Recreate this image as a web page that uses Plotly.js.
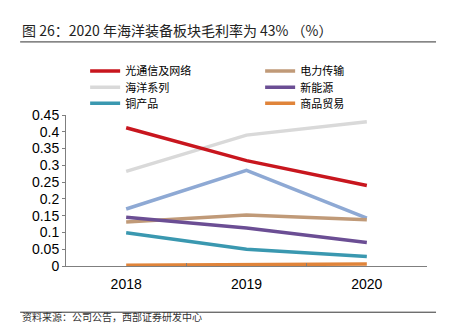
<!DOCTYPE html>
<html><head><meta charset="utf-8">
<script src="https://cdn.plot.ly/plotly-3.0.1.min.js"></script>
<style>html,body{margin:0;padding:0;background:#fff}#chart{width:458px;height:327px}</style>
</head><body><div id="chart"></div>
<script>
const years = ['2018', '2019', '2020'];
const seriesNames = ['光通信及网络', '电力传输', '海洋系列', '新能源', '铜产品', '商品贸易'];
const optical = [0.412, 0.314, 0.240];
const power = [0.131, 0.152, 0.138];
const marine = [0.282, 0.390, 0.430];
const newEnergy = [0.145, 0.113, 0.070];
const copper = [0.099, 0.050, 0.028];
const trade = [0.002, 0.004, 0.006];
const unlabeled = [0.170, 0.285, 0.143];
const yTicks = [0, 0.05, 0.1, 0.15, 0.2, 0.25, 0.3, 0.35, 0.4, 0.45];
const yTickText = ['0', '0.05', '0.1', '0.15', '0.2', '0.25', '0.3', '0.35', '0.4', '0.45'];

const colors = ['#C8161E', '#C09A78', '#D9D9D9', '#6B4E94', '#3A98B0', '#E0843A'];
const values = [optical, power, marine, newEnergy, copper, trade];
const legendRow = ['legend', 'legend', 'legend2', 'legend2', 'legend3', 'legend3'];
const W = 3.5;
const traces = [];
traces.push({x: years, y: unlabeled, type: 'scatter', mode: 'lines', showlegend: false,
  line: {color: '#8EA9D4', width: W}});
const drawOrder = [2, 0, 1, 3, 4, 5];
drawOrder.forEach(i => {
  traces.push({x: years, y: values[i], type: 'scatter', mode: 'lines', name: seriesNames[i],
    legend: legendRow[i], legendrank: i + 1, line: {color: colors[i], width: W}});
});

const legFont = {family: 'Noto Sans CJK SC, sans-serif', size: 11, color: '#000'};
function leg(y) {
  return {orientation: 'h', x: 0.053, y: y, xanchor: 'left', yanchor: 'middle',
    entrywidth: 130, traceorder: 'normal', font: legFont, bgcolor: 'rgba(0,0,0,0)'};
}

const layout = {
  width: 458, height: 327,
  margin: {l: 66, r: 31, t: 115, b: 61},
  paper_bgcolor: '#fff', plot_bgcolor: '#fff',
  font: {family: 'Liberation Sans, Arial, sans-serif', color: '#000'},
  showlegend: true,
  legend: leg(1.291),
  legend2: leg(1.184),
  legend3: leg(1.078),
  xaxis: {type: 'category', range: [-0.5, 2.5], showgrid: false, zeroline: false,
    showline: true, linecolor: '#7f7f7f', linewidth: 1,
    ticks: 'inside', tickson: 'boundaries', ticklen: 3, tickcolor: '#7f7f7f',
    tickfont: {size: 14, family: 'Liberation Sans, Arial, sans-serif'}, ticklabelstandoff: 5},
  yaxis: {range: [0, 0.45], tickvals: yTicks, ticktext: yTickText, showgrid: false, zeroline: false,
    showline: true, linecolor: '#7f7f7f', linewidth: 1,
    ticks: 'outside', ticklen: 3, tickcolor: '#7f7f7f',
    tickfont: {size: 14, family: 'Liberation Sans, Arial, sans-serif'}},
  annotations: [
    {xref: 'paper', yref: 'paper', x: -0.127, y: 1.56, xanchor: 'left', yanchor: 'middle', showarrow: false,
      text: '图 26：2020 年海洋装备板块毛利率为 43% （%）',
      font: {family: 'Noto Sans CJK SC, sans-serif', size: 14, color: '#222'}},
    {xref: 'paper', yref: 'paper', x: -0.127, y: -0.399, xanchor: 'left', yanchor: 'bottom', showarrow: false,
      text: '资料来源：公司公告，西部证券研发中心',
      font: {family: 'Noto Sans CJK SC, sans-serif', size: 10, color: '#333'}}
  ],
  shapes: [
    {type: 'line', xref: 'paper', yref: 'paper', x0: -0.127, x1: 1.025, y0: 1.484, y1: 1.484,
      line: {color: '#333', width: 1}},
    {type: 'line', xref: 'paper', yref: 'paper', x0: -0.127, x1: 1.025, y0: -0.306, y1: -0.306,
      line: {color: '#333', width: 1}}
  ]
};
Plotly.newPlot('chart', traces, layout, {displayModeBar: false, staticPlot: true});
</script></body></html>
